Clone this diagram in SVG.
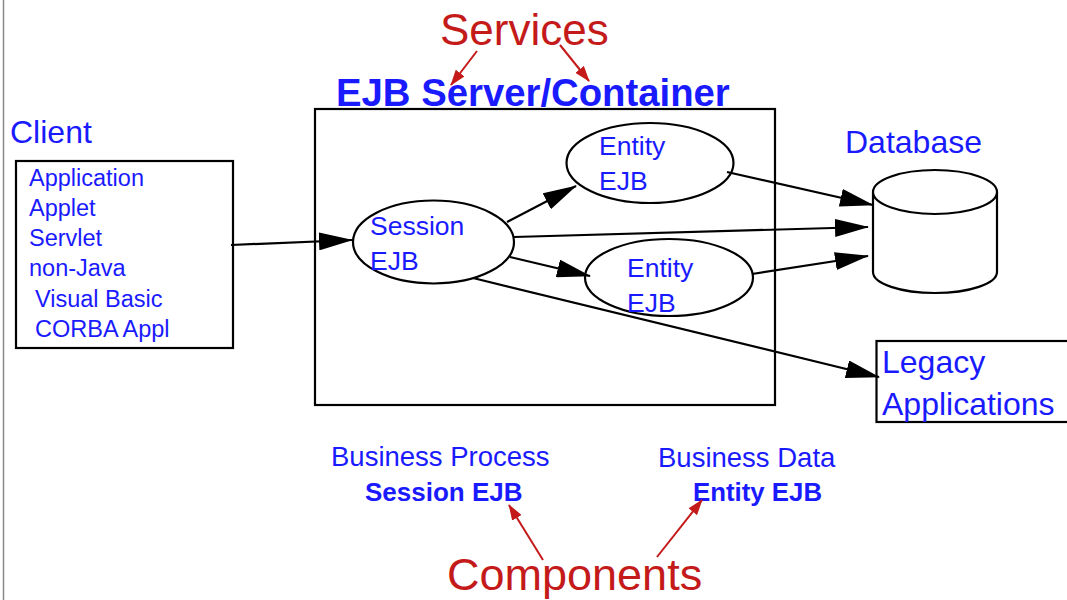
<svg xmlns="http://www.w3.org/2000/svg" width="1067" height="600" viewBox="0 0 1067 600">
  <style>
    .box { fill: none; stroke: #000; stroke-width: 2.2; }
    .shape { fill: #fff; stroke: #000; stroke-width: 2.2; }
    .lbl { font-family: "Liberation Sans", Arial, Helvetica, sans-serif; fill: #1a1aff; }
    .note { font-family: "Liberation Sans", Arial, Helvetica, sans-serif; fill: #c41a1a; }
    .bold { font-weight: bold; }
    .flow { fill: none; stroke: #000; stroke-width: 2.2; marker-end: url(#head); }
    .hint { fill: none; stroke: #c41a1a; stroke-width: 2; marker-end: url(#redhead); }
  </style>
  <defs>
    <marker id="head" viewBox="0 0 34 18" refX="33" refY="9" markerWidth="34" markerHeight="18" markerUnits="userSpaceOnUse" orient="auto">
      <path d="M0,0 L34,9 L0,18 z" fill="#000"/>
    </marker>
    <marker id="redhead" viewBox="0 0 16 11" refX="15" refY="5.5" markerWidth="16" markerHeight="11" markerUnits="userSpaceOnUse" orient="auto">
      <path d="M0,0 L16,5.5 L0,11 z" fill="#c41a1a"/>
    </marker>
  </defs>

  <rect width="1067" height="600" fill="#fff"/>
  <!-- page margin rule -->
  <line x1="3.5" y1="0" x2="3.5" y2="600" stroke="#8a8a8a" stroke-width="1.5"/>

  <!-- annotations -->
  <g id="services">
    <text class="note" x="440" y="45" font-size="44">Services</text>
  </g>
  <g id="components">
    <text class="note" x="447" y="590" font-size="45">Components</text>
  </g>

  <!-- client tier -->
  <g id="client">
    <text class="lbl" x="10" y="143" font-size="32">Client</text>
    <rect class="box" x="16" y="161" width="217" height="187"/>
    <text class="lbl" font-size="23.5">
      <tspan x="29" y="186">Application</tspan>
      <tspan x="29" y="216">Applet</tspan>
      <tspan x="29" y="246">Servlet</tspan>
      <tspan x="29" y="276">non-Java</tspan>
      <tspan x="35" y="307">Visual Basic</tspan>
      <tspan x="35" y="337">CORBA Appl</tspan>
    </text>
  </g>

  <!-- server / container -->
  <g id="container">
    <rect class="box" x="315" y="109" width="460" height="296"/>
    <text class="lbl bold" x="336" y="106" font-size="38.3">EJB Server/Container</text>
  </g>

  <g id="session-ejb">
    <ellipse class="shape" cx="433.5" cy="242" rx="80.5" ry="41.5"/>
    <text class="lbl" font-size="26.5">
      <tspan x="370" y="235">Session</tspan>
      <tspan x="370" y="270">EJB</tspan>
    </text>
  </g>

  <g id="entity-ejb-1">
    <ellipse class="shape" cx="650" cy="163" rx="83.5" ry="40"/>
    <text class="lbl" font-size="26.5">
      <tspan x="599" y="155">Entity</tspan>
      <tspan x="599" y="190">EJB</tspan>
    </text>
  </g>

  <g id="entity-ejb-2">
    <ellipse class="shape" cx="669" cy="277.5" rx="84" ry="38.5"/>
    <text class="lbl" font-size="26.5">
      <tspan x="627" y="277">Entity</tspan>
      <tspan x="627" y="312">EJB</tspan>
    </text>
  </g>

  <!-- database -->
  <g id="database">
    <text class="lbl" x="845" y="153" font-size="32">Database</text>
    <path class="shape" d="M873,192 L873,272 A62,21 0 0 0 997,272 L997,192"/>
    <ellipse class="shape" cx="935" cy="192" rx="62" ry="22"/>
  </g>

  <!-- legacy systems -->
  <g id="legacy">
    <rect class="box" x="876.5" y="341" width="200" height="81"/>
    <text class="lbl" font-size="32">
      <tspan x="882" y="373">Legacy</tspan>
      <tspan x="882" y="415">Applications</tspan>
    </text>
  </g>

  <!-- bean roles -->
  <g id="roles">
    <text class="lbl" x="331" y="466" font-size="27.5">Business Process</text>
    <text class="lbl bold" x="365" y="501" font-size="26">Session EJB</text>
    <text class="lbl" x="658" y="467" font-size="27.5">Business Data</text>
    <text class="lbl bold" x="693" y="501" font-size="25.8">Entity EJB</text>
  </g>

  <g id="connectors">
    <line class="flow" x1="231" y1="245" x2="352" y2="240"/>
    <line class="flow" x1="507" y1="222" x2="576" y2="186"/>
    <line class="flow" x1="514" y1="237" x2="868" y2="227"/>
    <line class="flow" x1="510" y1="257" x2="590" y2="276"/>
    <line class="flow" x1="727" y1="172" x2="873" y2="205"/>
    <line class="flow" x1="752" y1="274" x2="868" y2="256"/>
    <line class="flow" x1="473" y1="278" x2="879" y2="377"/>
    <line class="hint" x1="477" y1="51" x2="451" y2="85"/>
    <line class="hint" x1="560" y1="45" x2="589" y2="81"/>
    <line class="hint" x1="543" y1="560" x2="509" y2="505"/>
    <line class="hint" x1="657" y1="557" x2="702" y2="500"/>
  </g>
</svg>
